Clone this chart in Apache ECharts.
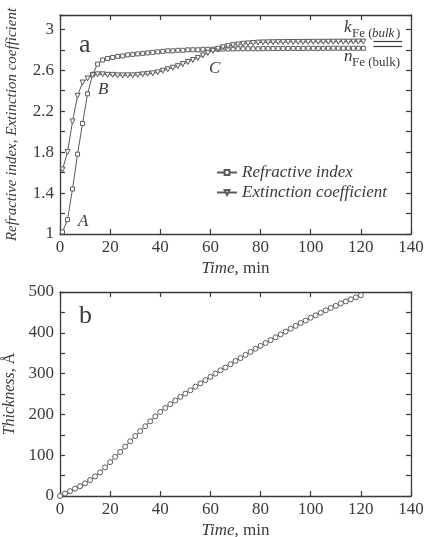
<!DOCTYPE html>
<html>
<head>
<meta charset="utf-8">
<script src="https://cdn.jsdelivr.net/npm/echarts@6/dist/echarts.min.js"></script>
<style>
  html, body { margin: 0; padding: 0; background: #fff; }
  #chart { width: 427px; height: 537px; }
</style>
</head>
<body>
<div id="chart"></div>
<script>
// panel a: optical constants vs time
const timeA = [1, 3, 5, 7, 9, 11, 13, 15, 17, 19, 21, 23, 25, 27, 29, 31, 33, 35, 37, 39,
  41, 43, 45, 47, 49, 51, 53, 55, 57, 59, 61, 63, 65, 67, 69, 71, 73, 75, 77, 79,
  81, 83, 85, 87, 89, 91, 93, 95, 97, 99, 101, 103, 105, 107, 109, 111, 113, 115, 117, 119, 121]
const refractive = [1.02, 1.14, 1.44, 1.78, 2.08, 2.37, 2.56, 2.66, 2.70, 2.715, 2.725, 2.735, 2.74, 2.75, 2.755, 2.76, 2.765, 2.77, 2.775, 2.78,
  2.785, 2.79, 2.79, 2.795, 2.795, 2.8, 2.8, 2.8, 2.805, 2.805, 2.805, 2.805, 2.808, 2.808, 2.808, 2.81, 2.81, 2.81, 2.81, 2.81,
  2.812, 2.812, 2.812, 2.812, 2.812, 2.813, 2.813, 2.813, 2.813, 2.814, 2.814, 2.814, 2.814, 2.814, 2.815, 2.815, 2.815, 2.815, 2.815, 2.815, 2.815]
const extinction = [1.63, 1.8, 2.1, 2.35, 2.48, 2.52, 2.55, 2.56, 2.56, 2.555, 2.555, 2.55, 2.55, 2.55, 2.55, 2.555, 2.56, 2.565, 2.57, 2.58,
  2.595, 2.61, 2.625, 2.64, 2.66, 2.68, 2.7, 2.72, 2.745, 2.77, 2.79, 2.81, 2.825, 2.835, 2.845, 2.852, 2.858, 2.862, 2.866, 2.87,
  2.872, 2.873, 2.874, 2.875, 2.875, 2.876, 2.876, 2.877, 2.877, 2.877, 2.878, 2.878, 2.878, 2.878, 2.879, 2.879, 2.879, 2.879, 2.88, 2.88, 2.88]
const kBulk = 2.88
const nBulk = 2.835
const bulkSpan = [125, 136.5]

// panel b: film thickness vs time
const timeB = [0, 2, 4, 6, 8, 10, 12, 14, 16, 18, 20, 22, 24, 26, 28, 30, 32, 34, 36, 38,
  40, 42, 44, 46, 48, 50, 52, 54, 56, 58, 60, 62, 64, 66, 68, 70, 72, 74, 76, 78,
  80, 82, 84, 86, 88, 90, 92, 94, 96, 98, 100, 102, 104, 106, 108, 110, 112, 114, 116, 118, 120]
const thickness = [0, 6, 12, 18, 24, 31, 39, 48, 58, 70, 83, 96, 108, 121, 134, 147, 159, 171, 183, 195,
  206, 216, 225, 234, 243, 251, 259, 268, 276, 284, 292, 300, 308, 315, 323, 331, 338, 346, 353, 361,
  368, 375, 382, 389, 396, 403, 410, 417, 424, 430, 437, 443, 449, 455, 461, 466, 472, 477, 482, 487, 492]

const xTicks = [0, 20, 40, 60, 80, 100, 120, 140]

const FONT = '"Liberation Serif", "Times New Roman", Times, serif'
const INK = '#3a3a3a'
const LINE = '#5a5a5a'

const chart = echarts.init(document.getElementById('chart'), null, { renderer: 'canvas' })

const pair = (xs, ys) => xs.map((x, i) => [x, ys[i]])

// 框线坐标轴（刻度朝内）
const frameX = (gridIndex, pos, showLabel, name) => ({
  type: 'value',
  gridIndex,
  position: pos,
  min: xTicks[0],
  max: xTicks[xTicks.length - 1],
  interval: 20,
  axisLine: { show: true, onZero: false, lineStyle: { color: INK, width: 1.3 } },
  axisTick: { show: true, inside: true, length: 5, lineStyle: { color: INK, width: 1.2 } },
  axisLabel: { show: showLabel, color: INK, fontFamily: FONT, fontSize: 17, margin: 5 },
  splitLine: { show: false },
  name: name || '',
  nameLocation: 'middle',
  nameGap: 26,
  nameTextStyle: {
    color: INK, fontFamily: FONT, fontSize: 17,
    rich: { i: { fontStyle: 'italic', fontFamily: FONT, fontSize: 17, color: INK } }
  }
})

const frameY = (gridIndex, pos, min, max, interval, labelFn, name, nameGap, nameSize) => ({
  type: 'value',
  gridIndex,
  position: pos,
  min, max, interval,
  axisLine: { show: true, onZero: false, lineStyle: { color: INK, width: 1.3 } },
  axisTick: { show: true, inside: true, length: 5, lineStyle: { color: INK, width: 1.2 } },
  axisLabel: { show: !!labelFn, formatter: labelFn, color: INK, fontFamily: FONT, fontSize: 17, margin: 6 },
  splitLine: { show: false },
  name: name || '',
  nameLocation: 'middle',
  nameGap: nameGap || 0,
  nameTextStyle: {
    color: INK, fontFamily: FONT, fontSize: nameSize || 16,
    rich: { i: { fontStyle: 'italic', fontFamily: FONT, fontSize: nameSize || 16, color: INK } }
  }
})

const labelA = v => {
  if (v > 3.01) return ''
  const k = Math.round((v - 1) * 10)
  return k % 4 === 0 ? String(+v.toFixed(1)) : ''
}
const labelB = v => (Math.round(v) % 100 === 0 ? String(Math.round(v)) : '')

const txt = (x, y, text, size, italic) => ({
  type: 'text', left: x, top: y, silent: true,
  style: { text, fill: INK, font: (italic ? 'italic ' : '') + size + 'px ' + FONT }
})

const option = {
  animation: false,
  backgroundColor: '#fff',
  grid: [
    { left: 60, top: 15, width: 351, height: 219, outerBoundsMode: 'none', containLabel: false },
    { left: 60, top: 292, width: 351, height: 204, outerBoundsMode: 'none', containLabel: false }
  ],
  xAxis: [
    frameX(0, 'bottom', true, '{i|Time}, min'),
    frameX(0, 'top', false),
    frameX(1, 'bottom', true, '{i|Time}, min'),
    frameX(1, 'top', false)
  ],
  yAxis: [
    frameY(0, 'left', 1, 3.14, 0.2, labelA, '{i|Refractive index, Extinction coefficient}', 40, 15),
    frameY(0, 'right', 1, 3.14, 0.2, null),
    frameY(1, 'left', 0, 500, 50, labelB, '{i|Thickness}, Å', 38, 16),
    frameY(1, 'right', 0, 500, 50, null)
  ],
  legend: {
    orient: 'vertical',
    left: 211,
    top: 159,
    itemGap: 3,
    itemWidth: 20,
    itemHeight: 6,
    textStyle: { fontFamily: FONT, fontStyle: 'italic', fontSize: 17, color: INK },
    data: ['Refractive index', 'Extinction coefficient']
  },
  series: [
    {
      name: 'Refractive index',
      type: 'line',
      xAxisIndex: 0, yAxisIndex: 0,
      data: pair(timeA, refractive),
      symbol: 'rect',
      symbolSize: 4,
      showAllSymbol: true,
      lineStyle: { color: LINE, width: 1 },
      itemStyle: { color: '#fff', borderColor: LINE, borderWidth: 1 },
      markLine: {
        silent: true,
        symbol: 'none',
        label: { show: false },
        lineStyle: { color: INK, width: 1.2, type: 'solid' },
        data: [
          [{ coord: [bulkSpan[0], kBulk] }, { coord: [bulkSpan[1], kBulk] }],
          [{ coord: [bulkSpan[0], nBulk] }, { coord: [bulkSpan[1], nBulk] }]
        ]
      }
    },
    {
      name: 'Extinction coefficient',
      type: 'line',
      xAxisIndex: 0, yAxisIndex: 0,
      data: pair(timeA, extinction),
      symbol: 'triangle',
      symbolRotate: 180,
      symbolSize: 5,
      showAllSymbol: true,
      lineStyle: { color: LINE, width: 1 },
      itemStyle: { color: '#fff', borderColor: LINE, borderWidth: 1 }
    },
    {
      name: 'Thickness',
      type: 'line',
      xAxisIndex: 2, yAxisIndex: 2,
      data: pair(timeB, thickness),
      symbol: 'circle',
      symbolSize: 5,
      showAllSymbol: true,
      lineStyle: { color: LINE, width: 1 },
      itemStyle: { color: '#fff', borderColor: LINE, borderWidth: 1 }
    }
  ],
  graphic: [
    txt(79, 32, 'a', 26, false),
    txt(79, 303, 'b', 26, false),
    txt(78, 213, 'A', 17, true),
    txt(98, 81, 'B', 17, true),
    txt(209, 60, 'C', 17, true),
    txt(344, 19, 'k', 17, true),
    txt(352, 27, 'Fe (', 13, false),
    txt(372, 27, 'bulk', 13, true),
    txt(396, 27, ')', 13, false),
    txt(344, 48, 'n', 17, true),
    txt(352, 56, 'Fe (bulk)', 13, false)
  ]
}

chart.setOption(option)
</script>
</body>
</html>
